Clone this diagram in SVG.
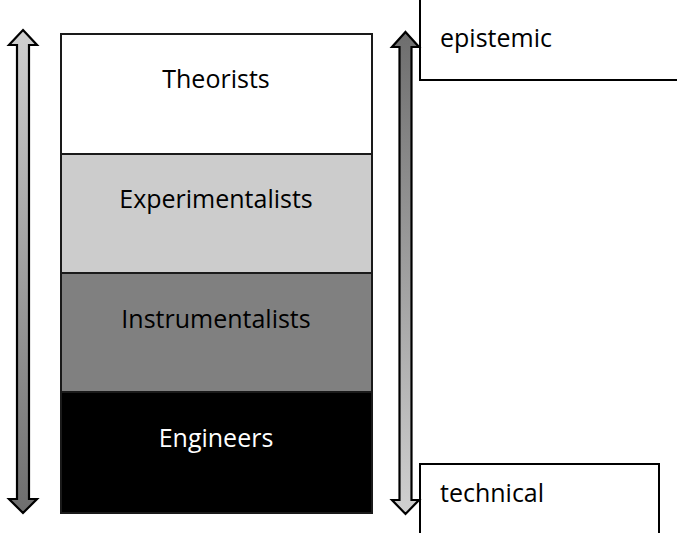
<svg xmlns="http://www.w3.org/2000/svg" width="677" height="533" viewBox="0 0 677 533">
  <style>
    .layer { stroke: #1a1a1a; stroke-width: 2; }
    .label { font-family: "Open Sans", "Liberation Sans", sans-serif; font-size: 25px; text-anchor: middle; fill: #000; }
    .note { font-family: "Open Sans", "Liberation Sans", sans-serif; font-size: 25px; fill: #000; }
    .box { fill: #fff; stroke: #000; stroke-width: 2; }
    .arrow { stroke: #000; stroke-width: 2.2; stroke-linejoin: miter; }
  </style>
  <defs>
    <linearGradient id="lightToDark" x1="0" y1="0" x2="0" y2="1">
      <stop offset="0" stop-color="#d0d0d0"/>
      <stop offset="1" stop-color="#6e6e6e"/>
    </linearGradient>
    <linearGradient id="darkToLight" x1="0" y1="0" x2="0" y2="1">
      <stop offset="0" stop-color="#6e6e6e"/>
      <stop offset="1" stop-color="#d0d0d0"/>
    </linearGradient>
  </defs>

  <rect width="677" height="533" fill="#fff"/>

  <!-- stacked layers -->
  <g id="theorists">
    <rect class="layer" x="61" y="34" width="311" height="120" fill="#fff"/>
    <text class="label" x="216" y="88">Theorists</text>
  </g>
  <g id="experimentalists">
    <rect class="layer" x="61" y="154" width="311" height="119" fill="#cccccc"/>
    <text class="label" x="216" y="208">Experimentalists</text>
  </g>
  <g id="instrumentalists">
    <rect class="layer" x="61" y="273" width="311" height="119" fill="#808080"/>
    <text class="label" x="216" y="328">Instrumentalists</text>
  </g>
  <g id="engineers">
    <rect class="layer" x="61" y="392" width="311" height="121" fill="#000"/>
    <text class="label" x="216" y="447" style="fill:#fff">Engineers</text>
  </g>

  <!-- side labels -->
  <g id="epistemic">
    <rect class="box" x="420" y="-4" width="262" height="84"/>
    <text class="note" x="440" y="47">epistemic</text>
  </g>
  <g id="technical">
    <rect class="box" x="420" y="464" width="239" height="74"/>
    <text class="note" x="440" y="502">technical</text>
  </g>

  <!-- double-headed arrows -->
  <g id="connectors">
    <path class="arrow" fill="url(#lightToDark)"
          d="M23,30 L37,45 L29,45 L29,499 L37,499 L23,513 L9,499 L17,499 L17,45 L9,45 Z"/>
    <path class="arrow" fill="url(#darkToLight)"
          d="M405.5,32 L419,47 L411.5,47 L411.5,500 L419,500 L405.5,514 L392,500 L399.5,500 L399.5,47 L392,47 Z"/>
  </g>
</svg>
